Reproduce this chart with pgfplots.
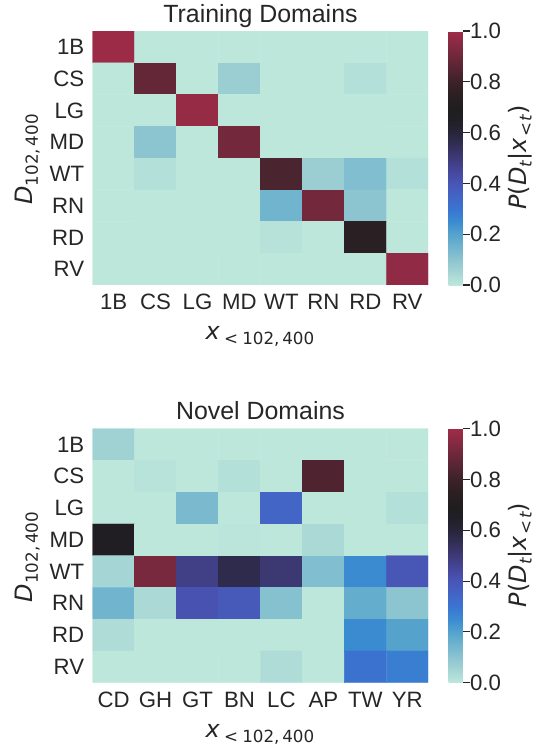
\documentclass[border=0pt]{standalone}
\usepackage{pgfplots}
\pgfplotsset{compat=1.18}
\usepackage{pgfplotstable}
\usepackage{fontspec}
\setmainfont{Liberation Sans}
\newfontfamily\dv{DejaVu Sans}
\definecolor{txt}{HTML}{262626}
\newcommand\tickfont{\fontsize{22.3}{26}\selectfont}
\newcommand\labelfont{\fontsize{24}{28}\selectfont}
\newcommand\titlefont{\fontsize{25}{30}\selectfont}
\newcommand\msub[1]{\raisebox{-0.23em}{\fontsize{16.8}{19}\selectfont #1}}

% P(D_t | x_<t): rows are domains D, columns are prefixes x
\pgfplotstableread{
x y c
0 0 0.99
1 0 0
2 0 0
3 0 0
4 0 0
5 0 0
6 0 0
7 0 0
0 1 0
1 1 0.88
2 1 0
3 1 0.07
4 1 0
5 1 0
6 1 0.02
7 1 0
0 2 0
1 2 0
2 2 0.98
3 2 0
4 2 0
5 2 0
6 2 0
7 2 0
0 3 0
1 3 0.10
2 3 0
3 3 0.91
4 3 0
5 3 0
6 3 0
7 3 0
0 4 0
1 4 0.02
2 4 0
3 4 0
4 4 0.83
5 4 0.07
6 4 0.12
7 4 0.02
0 5 0
1 5 0
2 5 0
3 5 0
4 5 0.15
5 5 0.91
6 5 0.10
7 5 0
0 6 0
1 6 0
2 6 0
3 6 0
4 6 0.015
5 6 0
6 6 0.74
7 6 0
0 7 0
1 7 0
2 7 0
3 7 0
4 7 0
5 7 0
6 7 0
7 7 0.97
}\trainmat

\pgfplotstableread{
x y c
0 0 0.06
1 0 0
2 0 0
3 0 0
4 0 0
5 0 0
6 0 0
7 0 0
0 1 0
1 1 0.01
2 1 0
3 1 0.02
4 1 0
5 1 0.84
6 1 0
7 1 0
0 2 0
1 2 0
2 2 0.13
3 2 0
4 2 0.35
5 2 0
6 2 0
7 2 0.02
0 3 0.67
1 3 0
2 3 0
3 3 0.005
4 3 0
5 3 0.04
6 3 0
7 3 0
0 4 0.05
1 4 0.92
2 4 0.48
3 4 0.57
4 4 0.51
5 4 0.12
6 4 0.25
7 4 0.40
0 5 0.15
1 5 0.04
2 5 0.41
3 5 0.39
4 5 0.11
5 5 0
6 5 0.17
7 5 0.10
0 6 0.03
1 6 0
2 6 0
3 6 0
4 6 0
5 6 0
6 6 0.25
7 6 0.20
0 7 0
1 7 0
2 7 0
3 7 0
4 7 0.03
5 7 0
6 7 0.31
7 7 0.28
}\novelmat

\pgfplotsset{
  colormap={icefire}{
    rgb255(0pt)=(189,231,219);
    rgb255(5pt)=(165,213,213);
    rgb255(10pt)=(140,196,208);
    rgb255(15pt)=(112,180,205);
    rgb255(20pt)=(85,163,204);
    rgb255(25pt)=(59,139,209);
    rgb255(30pt)=(58,117,209);
    rgb255(35pt)=(66,101,198);
    rgb255(40pt)=(72,86,182);
    rgb255(45pt)=(70,70,155);
    rgb255(50pt)=(62,58,120);
    rgb255(55pt)=(50,47,88);
    rgb255(60pt)=(40,37,58);
    rgb255(65pt)=(33,31,38);
    rgb255(69pt)=(31,30,31);
    rgb255(75pt)=(44,31,35);
    rgb255(80pt)=(60,34,41);
    rgb255(85pt)=(84,37,50);
    rgb255(90pt)=(110,40,58);
    rgb255(95pt)=(135,42,66);
    rgb255(100pt)=(160,43,72)
  },
  heatmap/.style={
    scale only axis, width=335.5bp, height=254bp, anchor=south west,
    xmin=-0.5, xmax=7.5, ymin=-0.5, ymax=7.5, y dir=reverse,
    enlargelimits=false,
    axis line style={draw=none},
    major tick length=0pt, tick style={draw=none},
    xtick={0,...,7}, ytick={0,...,7},
    tick label style={font=\tickfont, text=txt},
    xticklabel style={yshift=-5.7bp},
    yticklabel style={xshift=-5bp},
    colormap name=icefire,
    point meta min=0, point meta max=1,
    colorbar,
    colorbar style={
      at={(parent axis.north east)}, anchor=north west, xshift=11.8bp,
      scale only axis, width=14bp, height=254bp,
      axis line style={draw=none},
      ytick={0,0.2,0.4,0.6,0.8,1},
      yticklabels={0.0,0.2,0.4,0.6,0.8,1.0},
      ytick pos=right, yticklabel pos=right,
      tick align=outside, major tick length=7bp,
      ytick style={draw=txt, line width=1.1bp},
      yticklabel style={font=\tickfont, text=txt, xshift=-3bp},
    },
  },
}

\begin{document}
\begin{tikzpicture}
\useasboundingbox (0,0) rectangle (534bp,748bp);

% training domains
\begin{axis}[heatmap, at={(92.7bp,463bp)},
  xticklabels={1B,CS,LG,MD,WT,RN,RD,RV},
  yticklabels={1B,CS,LG,MD,WT,RN,RD,RV}]
  \addplot[matrix plot*, mesh/cols=8, point meta=explicit]
    table[x=x, y=y, meta=c] {\trainmat};
\end{axis}

% novel domains
\begin{axis}[heatmap, at={(92.7bp,65.3bp)},
  xticklabels={CD,GH,GT,BN,LC,AP,TW,YR},
  yticklabels={1B,CS,LG,MD,WT,RN,RD,RV}]
  \addplot[matrix plot*, mesh/cols=8, point meta=explicit]
    table[x=x, y=y, meta=c] {\novelmat};
\end{axis}

% titles
\node[anchor=base, font=\titlefont, text=txt] at (260.5bp,725.7bp) {Training Domains};
\node[anchor=base, font=\titlefont, text=txt] at (260.5bp,328.4bp) {Novel Domains};

% axis labels
\foreach \yc/\xb in {588.5/408.7, 191/11} {
  \node[rotate=90, anchor=base, font=\labelfont, text=txt, inner sep=0pt] at (32.5bp,\yc bp)
    {{\dv\itshape D}\msub{\dv 102,\,400}};
  \node[anchor=base, font=\labelfont, text=txt, inner sep=0pt] at (260bp,\xb bp)
    {{\dv\itshape x}\msub{\dv\hspace{0.25em}<\hspace{0.25em}102,\,400}};
}
\foreach \yc in {590.5, 193} {
  \node[rotate=90, anchor=base, font=\labelfont, text=txt, inner sep=0pt] at (526bp,\yc bp)
    {{\dv\itshape P}{\dv(}{\dv\itshape D}\msub{\dv\itshape t}{\dv|}{\dv\itshape x}\msub{\dv\hspace{0.1em}<\hspace{0.1em}\itshape t}{\dv)}};
}
\end{tikzpicture}
\end{document}
